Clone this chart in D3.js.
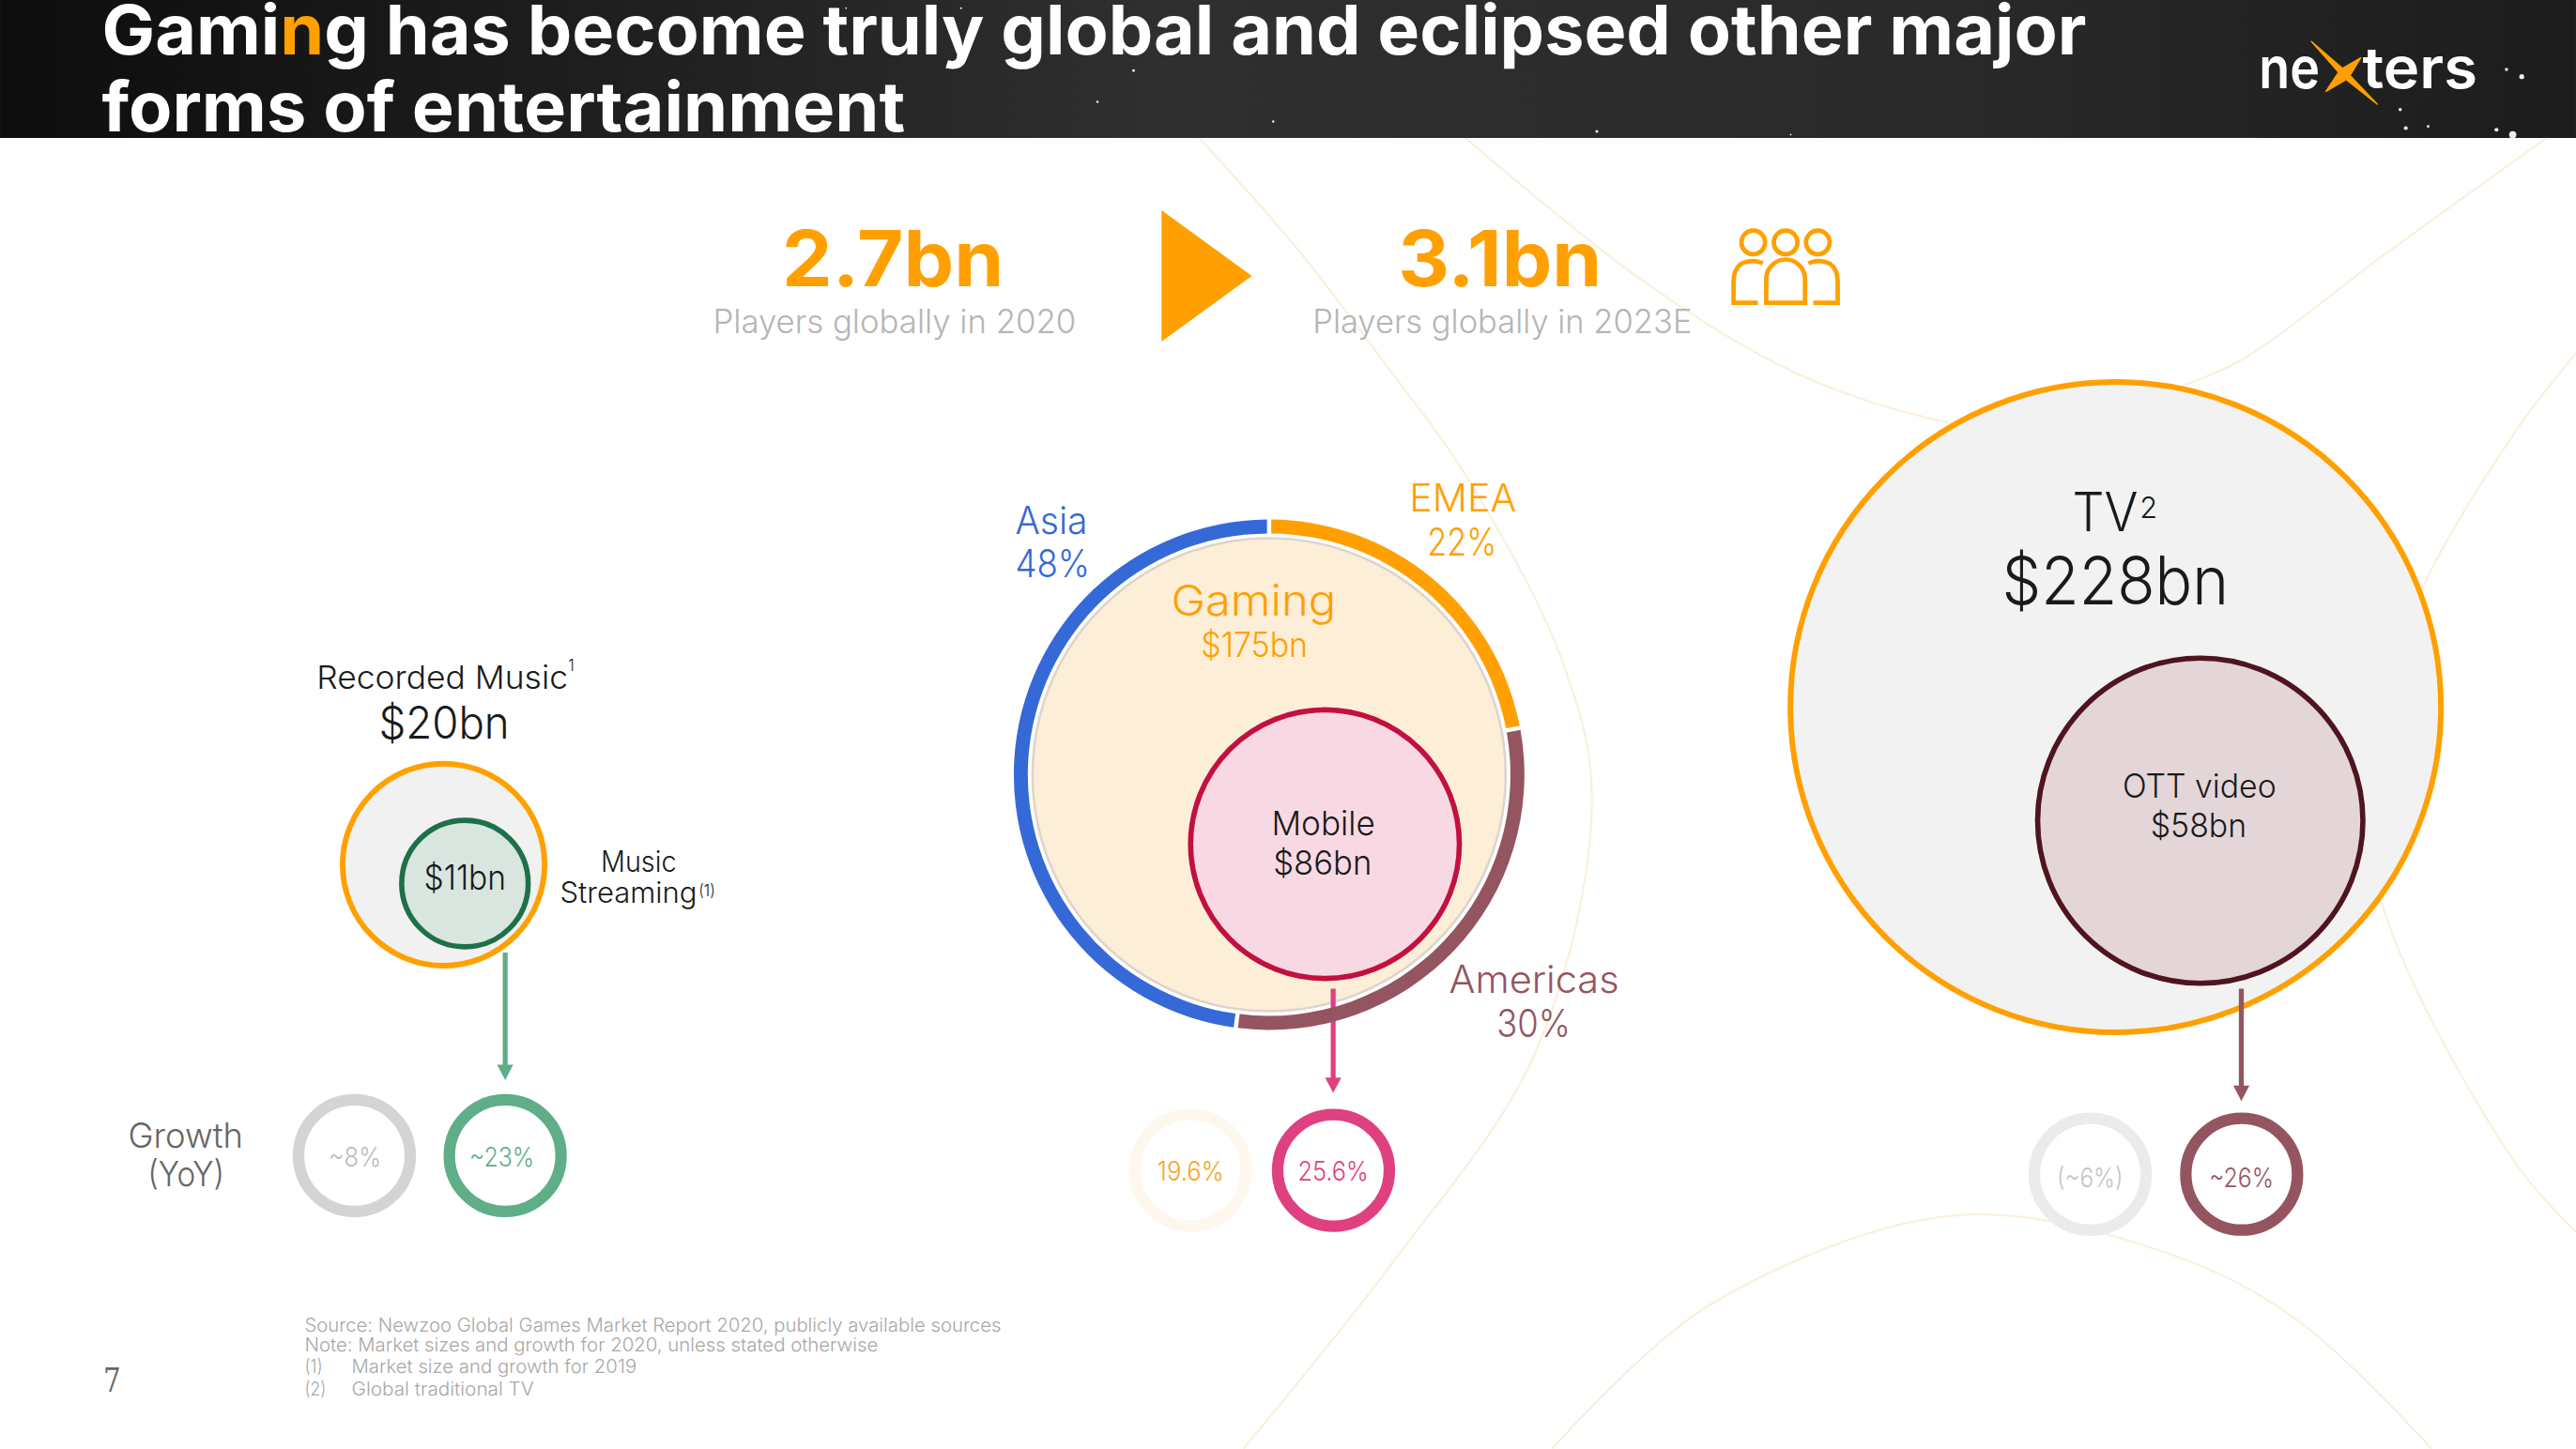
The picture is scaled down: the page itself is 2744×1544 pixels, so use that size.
<!DOCTYPE html>
<html>
<head>
<meta charset="utf-8">
<script src="https://cdnjs.cloudflare.com/ajax/libs/d3/7.8.5/d3.min.js"></script>
<style>
  html, body { margin: 0; padding: 0; background: #fff; overflow: hidden; }
  text { font-family: Inter, "Open Sans", sans-serif; font-weight: 300; }
</style>
</head>
<body>
<div id="wrapper"></div>
<script>
// Data
const titleLines = ["Gaming has become truly global and eclipsed other major", "forms of entertainment"]
const playerYears = ["2020", "2023E"]
const playerCounts = ["2.7bn", "3.1bn"]

const segments = ["Recorded Music", "Gaming", "TV"]
const segmentSize = [20, 175, 228]
const subSegments = ["Music Streaming", "Mobile", "OTT video"]
const subSegmentSize = [11, 86, 58]
const growthSegment = ["~8%", "19.6%", "(~6%)"]
const growthSub = ["~23%", "25.6%", "~26%"]

const regions = ["EMEA", "Americas", "Asia"]
const regionShare = [22, 30, 48]

const footnotes = [
  "Source: Newzoo Global Games Market Report 2020, publicly available sources",
  "Note: Market sizes and growth for 2020, unless stated otherwise",
  "Market size and growth for 2019",
  "Global traditional TV",
]

const orange = "#ffa000"
const blue = "#3569d8"
const plum = "#955560"

// Layout, in units of the 1568 wide slide
const dimensions = { width: 2744, height: 1544, viewW: 1568, viewH: 882.3, header: 84 }

const layout = [
  { outer: [270, 526.5], inner: [283, 538], stroke: "#1e7048", fill: "#d8e6df", arrowX: 307.5, arrowY: [580, 657.7],
    arrowColor: "#5fae88", ringY: 703.7, ringX: [215.7, 307.5], ringColor: ["#d4d4d4", "#5fae88"], textColor: ["#bbbbbb", "#5fae88"] },
  { outer: [772.5, 471.7], inner: [806.5, 514], stroke: "#c2103f", fill: "#f8d9e3", arrowX: 811.5, arrowY: [602, 665.5],
    arrowColor: "#df4080", ringY: 712.6, ringX: [724.6, 811.7], ringColor: ["#fdf7ee", "#df4080"], textColor: ["#f8a51c", "#df4080"] },
  { outer: [1287.8, 430.6], inner: [1339.3, 499.7], stroke: "#4e1520", fill: "#e4d6d8", arrowX: 1364.3, arrowY: [602, 670.4],
    arrowColor: plum, ringY: 715, ringX: [1272.3, 1364.5], ringColor: ["#ebebeb", plum], textColor: ["#c4c4c4", plum] },
]

const radius = d3.scaleOrdinal()
  .domain([...segmentSize, ...subSegmentSize])
  .range([61.5, 144, 198, 38.5, 81.8, 99])

const wrapper = d3.select("#wrapper").append("svg")
  .attr("width", dimensions.width)
  .attr("height", dimensions.height)
  .attr("viewBox", `0 0 ${dimensions.viewW} ${dimensions.viewH}`)
  .style("display", "block")

// Background curves
const curves = [
  [[730, 84], [790, 152], [848, 228], [890, 286], [950, 400], [969, 487], [935, 640], [846, 771], [757, 882]],
  [[892, 84], [1000, 171], [1095, 228], [1185, 257], [1240, 262], [1331, 234], [1368, 217], [1450, 156], [1550, 84]],
  [[1568, 215], [1531, 263], [1475, 357], [1442, 450], [1450, 550], [1531, 708], [1568, 750]],
  [[945, 882], [1040, 795], [1191, 740], [1322, 764], [1400, 805], [1480, 882]],
]
const curveLine = d3.line().curve(d3.curveCatmullRom.alpha(0.5))
wrapper.append("g").selectAll("path")
  .data(curves)
  .join("path")
  .attr("d", curveLine)
  .attr("fill", "none")
  .attr("stroke", "#faefdc")
  .attr("stroke-width", 1.2)

// Header
const defs = wrapper.append("defs")
const grad = defs.append("linearGradient").attr("id", "hdr")
grad.append("stop").attr("offset", "0").attr("stop-color", "#0d0d0d")
grad.append("stop").attr("offset", "0.45").attr("stop-color", "#2f2f2f")
grad.append("stop").attr("offset", "0.75").attr("stop-color", "#2a2a2a")
grad.append("stop").attr("offset", "1").attr("stop-color", "#1c1c1c")

wrapper.append("rect")
  .attr("width", dimensions.viewW)
  .attr("height", dimensions.header)
  .attr("fill", "url(#hdr)")

const stars = [
  [690, 43, 0.8], [668, 62, 0.7], [775, 74, 0.7], [972, 80, 0.9], [1090, 82, 0.5], [515, 5, 0.5], [585, 5, 0.6],
  [1525.7, 42.3, 1], [1535, 46.7, 1.5], [1461, 66.7, 1], [1464.4, 78, 1.2], [1478, 77, 0.8], [1519.6, 79, 1.2], [1529.5, 82, 2.2],
]
wrapper.append("g").selectAll("circle")
  .data(stars)
  .join("circle")
  .attr("cx", d => d[0])
  .attr("cy", d => d[1])
  .attr("r", d => d[2])
  .attr("fill", "#eeeeee")

const title = wrapper.append("g").attr("fill", "#fff")
const t1 = title.append("text")
  .attr("x", 62).attr("y", 33)
  .attr("textLength", 1208).attr("lengthAdjust", "spacingAndGlyphs")
  .style("font-size", "42px").style("font-weight", 700)
t1.append("tspan").text(titleLines[0].slice(0, 4))
t1.append("tspan").attr("fill", orange).text(titleLines[0].slice(4, 5))
t1.append("tspan").text(titleLines[0].slice(5))
title.append("text")
  .attr("x", 62).attr("y", 80)
  .attr("textLength", 489).attr("lengthAdjust", "spacingAndGlyphs")
  .style("font-size", "42px").style("font-weight", 700)
  .text(titleLines[1])

// Logo
const logo = wrapper.append("g")
logo.append("text").attr("x", 1375).attr("y", 54).attr("textLength", 37).attr("lengthAdjust", "spacingAndGlyphs")
  .attr("fill", "#fff").style("font-size", "35px").style("font-weight", 600).text("ne")
logo.append("text").attr("x", 1438).attr("y", 54).attr("textLength", 70).attr("lengthAdjust", "spacingAndGlyphs")
  .attr("fill", "#fff").style("font-size", "35px").style("font-weight", 600).text("ters")
const starTips = [[1407, 25.3], [1437, 35.2], [1447, 63.4], [1415.8, 55.6]]
const starCentre = [1427, 45]
const starPoints = starTips.flatMap((p, i) => {
  const q = starTips[(i + 1) % 4]
  const mx = (p[0] + q[0]) / 2 - starCentre[0]
  const my = (p[1] + q[1]) / 2 - starCentre[1]
  const len = Math.hypot(mx, my)
  return [p, [starCentre[0] + mx / len * 3.6, starCentre[1] + my / len * 3.6]]
})
logo.append("path")
  .attr("d", d3.line()(starPoints) + "Z")
  .attr("fill", orange)
  .attr("stroke", orange)
  .attr("stroke-width", 0.8)
  .attr("stroke-linejoin", "round")

// Bubbles
const bubbles = wrapper.append("g")
segments.forEach((name, i) => {
  const pos = layout[i]
  const g = bubbles.append("g")

  const outerStyle = name === "Gaming"
    ? { fill: "#fdeed8", stroke: "#ddd5cd", width: 1.5 }
    : { fill: "#f1f1f1", stroke: orange, width: 3.4 }

  g.append("circle")
    .attr("cx", pos.outer[0]).attr("cy", pos.outer[1])
    .attr("r", radius(segmentSize[i]))
    .attr("fill", outerStyle.fill)
    .attr("fill-opacity", name === "TV" ? 0.96 : 1)
    .attr("stroke", outerStyle.stroke)
    .attr("stroke-width", outerStyle.width)

  g.append("circle")
    .attr("cx", pos.inner[0]).attr("cy", pos.inner[1])
    .attr("r", radius(subSegmentSize[i]))
    .attr("fill", pos.fill)
    .attr("stroke", pos.stroke)
    .attr("stroke-width", 3.2)

  // arrow from the inner bubble to its growth ring
  g.append("line")
    .attr("x1", pos.arrowX).attr("x2", pos.arrowX)
    .attr("y1", pos.arrowY[0]).attr("y2", pos.arrowY[1] - 8)
    .attr("stroke", pos.arrowColor)
    .attr("stroke-width", 3)
  g.append("path")
    .attr("d", d3.line()([
      [pos.arrowX - 4.9, pos.arrowY[1] - 9.4],
      [pos.arrowX + 4.9, pos.arrowY[1] - 9.4],
      [pos.arrowX, pos.arrowY[1]],
    ]) + "Z")
    .attr("fill", pos.arrowColor)

  // growth rings
  g.selectAll("circle.ring")
    .data(pos.ringX)
    .join("circle")
    .attr("class", "ring")
    .attr("cx", d => d)
    .attr("cy", pos.ringY)
    .attr("r", 34)
    .attr("fill", "#fff")
    .attr("stroke", (d, j) => pos.ringColor[j])
    .attr("stroke-width", 7)
})

// Regional split around Gaming
const pie = d3.pie().sort(null).padAngle(0.012)
const regionArc = d3.arc().innerRadius(146.9).outerRadius(155.4)
const regionColor = d3.scaleOrdinal().domain(regions).range([orange, plum, blue])
bubbles.append("g")
  .attr("transform", `translate(${layout[1].outer})`)
  .selectAll("path")
  .data(pie(regionShare))
  .join("path")
  .attr("d", regionArc)
  .attr("fill", (d, i) => regionColor(regions[i]))

// Generic label: x is the left edge, w the width measured on the slide
const labels = wrapper.append("g")
const addLabel = (str, x, y, w, size, color, weight = 300) => labels.append("text")
  .attr("x", x).attr("y", y + 0.7)
  .attr("textLength", w).attr("lengthAdjust", "spacingAndGlyphs")
  .attr("fill", color)
  .style("font-size", `${size}px`).style("font-weight", weight)
  .text(str)

// Players
addLabel(playerCounts[0], 476, 173.5, 135, 47, orange, 700)
addLabel(playerCounts[1], 851, 173.5, 124, 47, orange, 700)
addLabel(`Players globally in ${playerYears[0]}`, 434, 202, 221, 20, "#b5b5b5")
addLabel(`Players globally in ${playerYears[1]}`, 799, 202, 231, 20, "#b5b5b5")

wrapper.append("path")
  .attr("d", d3.line()([[707, 128], [762, 168], [707, 208]]) + "Z")
  .attr("fill", orange)

// People icon
const icon = wrapper.append("g").attr("fill", "none").attr("stroke", orange).attr("stroke-width", 2.7)
icon.selectAll("circle")
  .data([1067.2, 1086.9, 1106.5])
  .join("circle")
  .attr("cx", d => d).attr("cy", 147.6).attr("r", 7.2)
icon.append("path").attr("d", "M1075.1 184.4V170A11.8 12 0 0 1 1098.7 170V184.4Z")
icon.append("path").attr("d", "M1073 160.4Q1067 157.5 1060 160.5Q1055.2 164 1055.2 171.4V184.4H1070")
icon.append("path").attr("d", "M1100.8 160.4Q1106.8 157.5 1113.8 160.5Q1118.6 164 1118.6 171.4V184.4H1103.8")

// Labels around Recorded Music
const ink = "#1a1a1a"
addLabel(segments[0], 192.7, 418.6, 153, 19.5, ink)
addLabel("1", 346, 408, 3.5, 10, ink)
addLabel(`$${segmentSize[0]}bn`, 230.6, 449, 79.5, 27, ink)
addLabel(`$${subSegmentSize[0]}bn`, 258, 541, 50, 21, ink)
addLabel(subSegments[0].split(" ")[0], 365.7, 530, 46, 17.5, ink)
addLabel(subSegments[0].split(" ")[1], 340.8, 549, 83.5, 17.5, ink)
addLabel("(1)", 425.3, 545, 10, 10, ink)
addLabel("Growth", 78, 698, 70, 21, "#666")
addLabel("(YoY)", 89.8, 721.5, 46.8, 21, "#666")
addLabel(growthSegment[0], 200, 709.8, 32, 16, layout[0].textColor[0])
addLabel(growthSub[0], 285.7, 709.8, 39.5, 16, layout[0].textColor[1])

// Labels around Gaming
addLabel(regions[2], 618, 324.4, 44, 23, blue)
addLabel(`${regionShare[2]}%`, 618, 350.8, 45.4, 23, blue)
addLabel(regions[0], 857.8, 310.5, 65.2, 23, orange)
addLabel(`${regionShare[0]}%`, 868.7, 337.4, 42.3, 23, orange)
addLabel(regions[1], 882, 604, 103.5, 23, plum)
addLabel(`${regionShare[1]}%`, 911, 631, 45, 23, plum)
addLabel(segments[1], 712.9, 374, 100.4, 26, orange)
addLabel(`$${segmentSize[1]}bn`, 731, 399.4, 65, 21, orange)
addLabel(subSegments[1], 774, 507.8, 63, 20.5, ink)
addLabel(`$${subSegmentSize[1]}bn`, 775, 532, 60, 20.5, ink)
addLabel(growthSegment[1], 704.5, 718.4, 40.5, 16, layout[1].textColor[0])
addLabel(growthSub[1], 790, 718.4, 43, 16, layout[1].textColor[1])

// Labels around TV
addLabel(segments[2], 1261.5, 323, 40, 33, ink)
addLabel("2", 1302.5, 314.5, 10.8, 18, ink)
addLabel(`$${segmentSize[2]}bn`, 1218.6, 367.6, 138, 41, ink)
addLabel(subSegments[2], 1292, 484.9, 93.6, 20, ink)
addLabel(`$${subSegmentSize[2]}bn`, 1309, 509, 58.5, 20, ink)
addLabel(growthSegment[2], 1252, 722, 40.3, 16, layout[2].textColor[0])
addLabel(growthSub[2], 1344.7, 722, 39.3, 16, layout[2].textColor[1])

// Footer
const foot = "#a8a8a8"
addLabel(footnotes[0], 185.4, 809.9, 424, 11.5, foot)
addLabel(footnotes[1], 185.4, 822.3, 349, 11.5, foot)
addLabel("(1)", 185.4, 835.2, 11, 11.5, foot)
addLabel(footnotes[2], 214, 835.2, 173.5, 11.5, foot)
addLabel("(2)", 185.4, 849, 13, 11.5, foot)
addLabel(footnotes[3], 214, 849, 111, 11.5, foot)
addLabel("7", 62.9, 847, 10.7, 20, "#666").style("font-family", "'DejaVu Serif'")
</script>
</body>
</html>
